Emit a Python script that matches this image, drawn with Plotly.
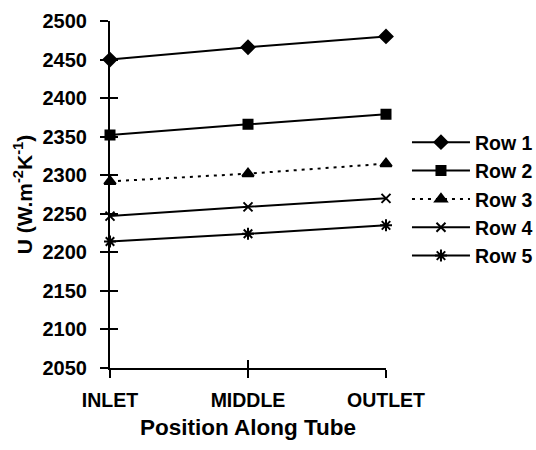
import plotly.graph_objects as go

positions = ["INLET", "MIDDLE", "OUTLET"]
pos_idx = [0, 1, 2]
row1 = [2450, 2466, 2480]
row2 = [2352, 2366, 2379]
row3 = [2292, 2302, 2315]
row4 = [2247, 2259, 2270]
row5 = [2214, 2224, 2235]
y_ticks = [2050, 2100, 2150, 2200, 2250, 2300, 2350, 2400, 2450, 2500]

FONT = "Liberation Sans, Arial, Helvetica, sans-serif"

series = [
    ("Row 1", row1, "diamond", "solid", 10),
    ("Row 2", row2, "square", "solid", 9),
    ("Row 3", row3, "triangle-up", "3px,5px", 10),
    ("Row 4", row4, "x-thin-open", "solid", 9),
    ("Row 5", row5, "asterisk-open", "solid", 10),
]

fig = go.Figure()
for name, vals, sym, dash, size in series:
    fig.add_trace(go.Scatter(
        x=pos_idx, y=vals, name=name, mode="lines+markers",
        line=dict(color="black", width=2, dash=dash),
        marker=dict(symbol=sym, size=size, color="black",
                    line=dict(color="black", width=2)),
        cliponaxis=False,
    ))

axis_common = dict(showgrid=False, zeroline=False, showline=True,
                   linecolor="black", linewidth=2, tickcolor="black",
                   tickwidth=2, ticklen=8)

fig.update_layout(
    width=536, height=450,
    margin=dict(l=110, r=150, t=21, b=82, autoexpand=False),
    paper_bgcolor="white", plot_bgcolor="white",
    font=dict(family=FONT, color="black", size=19),
    xaxis=dict(**axis_common, range=[0, 2], tickmode="array",
               tickvals=pos_idx, ticktext=positions, ticks="outside",
               ticklabelstandoff=6,
               tickfont=dict(family=FONT, size=19.5, weight="bold"),
               title=dict(text="Position Along Tube", standoff=9,
                          font=dict(family=FONT, size=22.5, weight="bold"))),
    yaxis=dict(**axis_common, range=[2050, 2500], tickmode="array",
               tickvals=y_ticks, ticks="outside", ticklabelstandoff=9,
               tickfont=dict(family=FONT, size=20, weight="bold"),
               title=dict(text="U (W.m<sup>-2</sup>K<sup>-1</sup>)", standoff=4,
                          font=dict(family=FONT, size=21, weight="bold"))),
    xaxis2=dict(**axis_common, overlaying="x", range=[0, 2], tickmode="array",
                tickvals=pos_idx, ticks="inside", showticklabels=False,
                side="bottom", anchor="y"),
    yaxis2=dict(**axis_common, overlaying="y", range=[2050, 2500], tickmode="array",
                tickvals=y_ticks, ticks="inside", showticklabels=False,
                side="left", anchor="x"),
    legend=dict(x=1.076, y=0.706, xanchor="left", yanchor="top",
                font=dict(family=FONT, size=19.5, weight="bold"),
                bgcolor="rgba(0,0,0,0)", itemwidth=58, tracegroupgap=0),
    showlegend=True,
)
fig.add_trace(go.Scatter(x=[None], y=[None], xaxis="x2", yaxis="y2",
                         showlegend=False, hoverinfo="skip"))

fig.write_html("out.html")
